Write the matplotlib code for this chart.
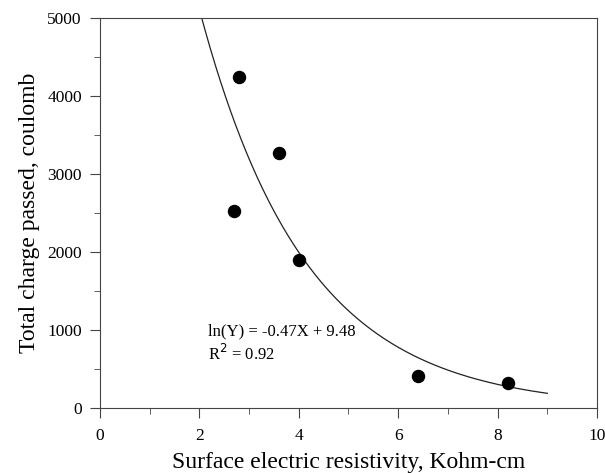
import numpy as np
import matplotlib.pyplot as plt

plt.rcParams["font.family"] = ["Liberation Serif", "DejaVu Serif"]

# measured points
resistivity = [2.7, 2.8, 3.6, 4.0, 6.4, 8.2]
charge = [2530, 4250, 3270, 1900, 410, 320]

# fitted model: ln(Y) = -0.47X + 9.48
slope = -0.47
intercept = 9.48
fit_x = np.linspace(2.0, 9.0, 200)
fit_y = np.exp(intercept + slope * fit_x)


def main():
    fig = plt.figure(figsize=(6.05, 4.73), dpi=100)
    ax = fig.add_axes([0.165, 0.137, 0.822, 0.825])

    ax.plot(fit_x, fit_y, color="#222222", lw=0.9)
    ax.scatter(resistivity, charge, s=75, color="black", zorder=3)

    ax.set_xlim(0, 10)
    ax.set_ylim(0, 5000)
    ax.set_xticks(range(0, 11, 2))
    ax.set_xticks(range(1, 10, 2), minor=True)
    ax.set_yticks(range(0, 5001, 1000))
    ax.set_yticks(range(500, 5000, 1000), minor=True)
    ax.tick_params(which="major", direction="out", length=7, labelsize=12.5, color="#444444")
    ax.tick_params(which="minor", direction="out", length=4, color="#444444")
    ax.tick_params(axis="x", which="major", pad=7)
    ax.tick_params(axis="y", which="major", pad=6)
    for sp in ax.spines.values():
        sp.set_color("#444444")

    ax.set_xlabel("Surface electric resistivity, Kohm-cm", fontsize=17, labelpad=6)
    ax.set_ylabel("Total charge passed, coulomb", fontsize=17, labelpad=5)

    ax.text(2.17, 985, "ln(Y) = -0.47X + 9.48", fontsize=12, va="center")
    ax.text(2.17, 690, "R$^2$ = 0.92", fontsize=12, va="center")

    fig.savefig("out.png", dpi=100)
    plt.close(fig)


if __name__ == "__main__":
    main()
